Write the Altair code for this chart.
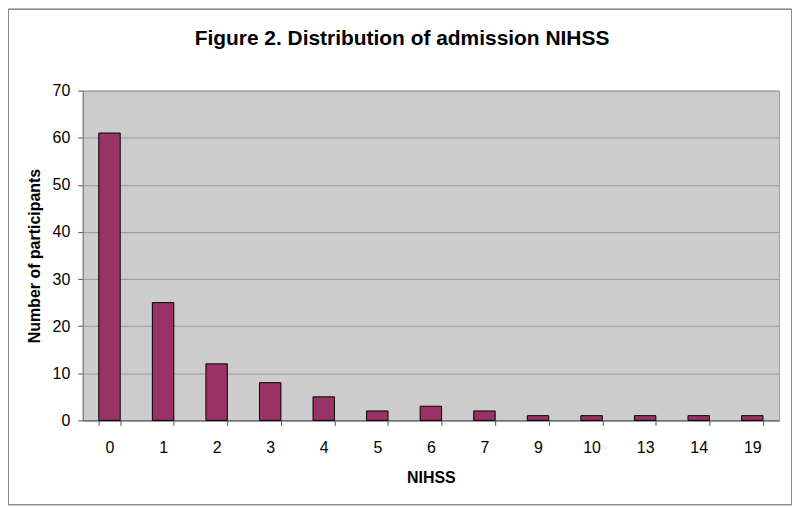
import altair as alt
import pandas as pd

nihss = ["0", "1", "2", "3", "4", "5", "6", "7", "9", "10", "13", "14", "19"]
participants = [61, 25, 12, 8, 5, 2, 3, 2, 1, 1, 1, 1, 1]
y_ticks = [0, 10, 20, 30, 40, 50, 60, 70]

df = pd.DataFrame({"NIHSS": nihss, "count": participants})

FONT = "Liberation Sans"

bars = alt.Chart(df).mark_bar(
    color="#993366", stroke="#000000", strokeWidth=1
).encode(
    x=alt.X(
        "NIHSS:N",
        sort=nihss,
        title="NIHSS",
        scale=alt.Scale(paddingInner=0.6, paddingOuter=0.3),
        axis=alt.Axis(
            labelAngle=0,
            tickBand="extent",
            tickSize=5,
            labelPadding=14,
            titlePadding=14,
            domainColor="#555555",
            tickColor="#555555",
            grid=False,
        ),
    ),
    y=alt.Y(
        "count:Q",
        title="Number of participants",
        scale=alt.Scale(domain=[0, 70], nice=False),
        axis=alt.Axis(
            values=y_ticks,
            tickSize=5,
            labelPadding=8,
            titlePadding=10,
            domainColor="#777777",
            tickColor="#555555",
            gridColor="#999999",
            grid=True,
        ),
    ),
)

border = alt.Chart(df).mark_rect(
    fill=None, stroke="#8C8C8C", strokeWidth=1
).encode(
    x=alt.value(-74.5),
    x2=alt.value(711.5),
    y=alt.value(-81.5),
    y2=alt.value(415.5),
)

chart = alt.layer(bars, border).properties(
    width=699,
    height=331,
    background="#FFFFFF",
    title=alt.TitleParams(
        "Figure 2. Distribution of admission NIHSS",
        fontSize=21,
        font=FONT,
        fontWeight="bold",
        color="#000000",
        anchor="middle",
        dx=-29,
        offset=0,
        dy=57,
        baseline="alphabetic",
    ),
    autosize=alt.AutoSizeParams(type="none"),
    padding={"left": 75, "top": 82, "right": 13, "bottom": 87},
).configure_view(
    fill="#CCCCCC", stroke="#A0A0A0", strokeWidth=1
).configure_axis(
    labelFont=FONT,
    titleFont=FONT,
    labelFontSize=16,
    titleFontSize=16,
    labelColor="#000000",
    titleColor="#000000",
    titleFontWeight="bold",
)

chart.save("out.html", embed_options={"renderer": "svg", "actions": False})
